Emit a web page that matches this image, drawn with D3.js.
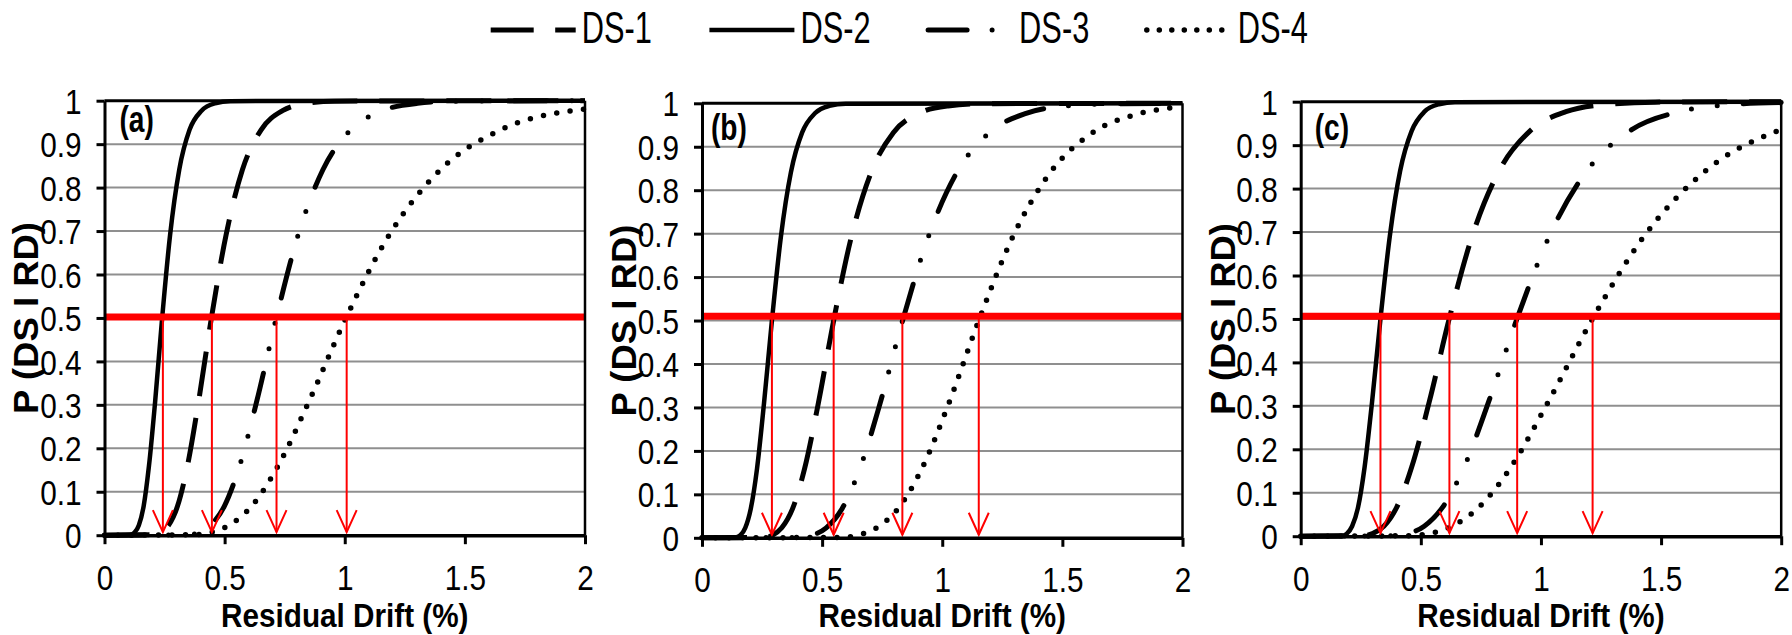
<!DOCTYPE html>
<html>
<head>
<meta charset="utf-8">
<script src="https://cdn.jsdelivr.net/npm/d3@7"></script>
<style>
  html, body { margin: 0; padding: 0; background: #fff; }
  svg { display: block; }
  text { font-family: "Liberation Sans", Arial, sans-serif; fill: #000; }
</style>
</head>
<body>
<svg id="chart"></svg>
<script>
// ---- values: [residual drift %, probability] ----
const seriesNames = ["DS-1", "DS-2", "DS-3", "DS-4"];
const panelLabels = ["(a)", "(b)", "(c)"];
const xTicks = [0, 0.5, 1, 1.5, 2];
const yTicks = [0, 0.1, 0.2, 0.3, 0.4, 0.5, 0.6, 0.7, 0.8, 0.9, 1];
const medianLevel = [0.502, 0.510, 0.506];

const arrowsA = [0.243, 0.447, 0.716, 1.008];
const arrowsB = [0.291, 0.548, 0.834, 1.152];
const arrowsC = [0.332, 0.619, 0.901, 1.215];

const a_DS1 = [[0,0],[0.207,0.001],[0.235,0.006],[0.267,0.023],[0.304,0.067],[0.345,0.159],[0.392,0.309],[0.445,0.5],[0.506,0.691],[0.574,0.841],[0.652,0.933],[0.741,0.977],[0.842,0.994],[0.956,0.999],[2,1]];
const a_DS2 = [[0,0],[0.110,0.001],[0.125,0.006],[0.143,0.023],[0.163,0.067],[0.185,0.159],[0.211,0.309],[0.240,0.5],[0.273,0.691],[0.311,0.841],[0.354,0.933],[0.404,0.977],[0.460,0.994],[0.524,0.999],[2,1]];
const a_DS3 = [[0,0],[0.348,0.001],[0.392,0.006],[0.442,0.023],[0.499,0.067],[0.562,0.159],[0.634,0.309],[0.715,0.5],[0.806,0.691],[0.909,0.841],[1.025,0.933],[1.156,0.977],[1.303,0.994],[1.469,0.999],[2,1]];
const a_DS4 = [[0,0],[0.373,0.001],[0.440,0.006],[0.519,0.023],[0.613,0.067],[0.722,0.159],[0.852,0.309],[1.005,0.5],[1.185,0.691],[1.398,0.841],[1.649,0.933],[1.944,0.977],[2,0.981]];

const b_DS1 = [[0,0],[0.259,0.001],[0.293,0.006],[0.332,0.023],[0.377,0.067],[0.427,0.159],[0.484,0.309],[0.548,0.5],[0.621,0.691],[0.704,0.841],[0.797,0.933],[0.903,0.977],[1.024,0.994],[1.160,0.999],[2,1]];
const b_DS2 = [[0,0],[0.142,0.001],[0.160,0.006],[0.180,0.023],[0.203,0.067],[0.229,0.159],[0.258,0.309],[0.291,0.5],[0.328,0.691],[0.370,0.841],[0.417,0.933],[0.470,0.977],[0.530,0.994],[0.598,0.999],[2,1]];
const b_DS3 = [[0,0],[0.406,0.001],[0.458,0.006],[0.517,0.023],[0.583,0.067],[0.657,0.159],[0.741,0.309],[0.835,0.5],[0.941,0.691],[1.061,0.841],[1.197,0.933],[1.349,0.977],[1.521,0.994],[1.715,0.999],[2,1]];
const b_DS4 = [[0,0],[0.578,0.001],[0.648,0.006],[0.727,0.023],[0.816,0.067],[0.915,0.159],[1.027,0.309],[1.152,0.5],[1.292,0.691],[1.450,0.841],[1.627,0.933],[1.825,0.977],[2,0.992]];

const c_DS1 = [[0,0],[0.259,0.001],[0.299,0.006],[0.346,0.023],[0.400,0.067],[0.462,0.159],[0.535,0.309],[0.618,0.5],[0.714,0.691],[0.826,0.841],[0.955,0.933],[1.104,0.977],[1.276,0.994],[1.475,0.999],[2,1]];
const c_DS2 = [[0,0],[0.172,0.001],[0.192,0.006],[0.214,0.023],[0.239,0.067],[0.266,0.159],[0.297,0.309],[0.332,0.5],[0.371,0.691],[0.414,0.841],[0.462,0.933],[0.515,0.977],[0.575,0.994],[0.642,0.999],[2,1]];
const c_DS3 = [[0,0],[0.389,0.001],[0.447,0.006],[0.514,0.023],[0.591,0.067],[0.680,0.159],[0.782,0.309],[0.900,0.5],[1.035,0.691],[1.191,0.841],[1.370,0.933],[1.576,0.977],[1.812,0.994],[2,0.998]];
const c_DS4 = [[0,0],[0.454,0.001],[0.535,0.006],[0.630,0.023],[0.742,0.067],[0.875,0.159],[1.030,0.309],[1.214,0.5],[1.430,0.691],[1.685,0.841],[1.986,0.933],[2,0.936]];

// ---- styling / layout ----
const lineStyles = {
    "DS-1": { width: 5, dash: "45 22", legendDash: "43 21.5", cap: "butt" },
    "DS-2": { width: 4.5, dash: null, legendDash: null, cap: "butt" },
    "DS-3": { width: 5, dash: "39 25 0 26 0 26", legendDash: "39 25 0 26 0 26", cap: "round" },
    "DS-4": { width: 5.5, dash: "0 13.5", legendDash: "0 12.5", cap: "round" }
};

const layout = [
    { left: 104.5, top: 100.7, labelDx: 15, labelY: 132 },
    { left: 702, top: 103.3, labelDx: 9, labelY: 139.5 },
    { left: 1300.7, top: 101.7, labelDx: 14, labelY: 139.5 }
];

const svg = d3.select("#chart").attr("width", 1792).attr("height", 635);
svg.append("rect").attr("width", 1792).attr("height", 635).attr("fill", "#fff");

class FragilityPanel {
    constructor(svg, pos, width = 480.5, height = 434.5) {
        this.svg = svg;
        this.pos = pos;
        this.width = width;
        this.height = height;

        this.x = d3.scaleLinear().domain([0, 2]).range([0, this.width]);
        this.y = d3.scaleLinear().domain([0, 1]).range([this.height, 0]);

        this.g = svg.append("g")
            .attr("transform", `translate(${pos.left}, ${pos.top})`);
    }

    draw(series, arrows, level, label) {
        const g = this.g;

        // gridlines
        g.selectAll(".grid")
            .data(yTicks.filter(t => t > 0 && t < 1))
            .enter().append("line")
            .attr("class", "grid")
            .attr("x1", 0).attr("x2", this.width)
            .attr("y1", d => this.y(d)).attr("y2", d => this.y(d))
            .attr("stroke", "#8f8f8f").attr("stroke-width", 2);

        // curves
        const line = d3.line()
            .x(d => this.x(d[0]))
            .y(d => this.y(d[1]))
            .curve(d3.curveMonotoneX);

        series.forEach((pts, i) => {
            const st = lineStyles[seriesNames[i]];
            g.append("path")
                .datum(pts)
                .attr("d", line)
                .attr("fill", "none")
                .attr("stroke", "#000")
                .attr("stroke-width", st.width)
                .attr("stroke-linecap", st.cap)
                .attr("stroke-dasharray", st.dash);
        });

        // 50% line
        g.append("line")
            .attr("x1", this.x(0)).attr("x2", this.x(2))
            .attr("y1", this.y(level)).attr("y2", this.y(level))
            .attr("stroke", "#ff0000").attr("stroke-width", 7);

        // arrows down to the median drift
        const tip = this.y(0.007);
        arrows.forEach(v => {
            const ax = this.x(v);
            g.append("line")
                .attr("x1", ax).attr("x2", ax)
                .attr("y1", this.y(level)).attr("y2", tip)
                .attr("stroke", "#ff0000").attr("stroke-width", 2);
            g.append("path")
                .attr("d", `M${ax - 10},${tip - 22}L${ax},${tip}L${ax + 10},${tip - 22}`)
                .attr("fill", "none")
                .attr("stroke", "#ff0000").attr("stroke-width", 2);
        });

        // frame: top and right
        g.append("line")
            .attr("x1", 0).attr("x2", this.width)
            .attr("y1", 0).attr("y2", 0)
            .attr("stroke", "#000").attr("stroke-width", 3);
        g.append("line")
            .attr("x1", this.width).attr("x2", this.width)
            .attr("y1", 0).attr("y2", this.height)
            .attr("stroke", "#000").attr("stroke-width", 2.5);

        // axes
        const yAxis = g.append("g")
            .call(d3.axisLeft(this.y).tickValues(yTicks).tickSize(8).tickSizeOuter(0).tickFormat(d3.format("~g")));
        yAxis.select(".domain").attr("stroke-width", 3);
        yAxis.selectAll(".tick line").attr("stroke-width", 3);
        yAxis.selectAll(".tick text")
            .attr("x", null)
            .attr("dy", "0.36em")
            .attr("font-size", 35)
            .attr("transform", "translate(-23,0) scale(0.85,1)");

        const xAxis = g.append("g")
            .attr("transform", `translate(0, ${this.height})`)
            .call(d3.axisBottom(this.x).tickValues(xTicks).tickSize(9).tickSizeOuter(0).tickFormat(d3.format("~g")));
        xAxis.select(".domain").attr("stroke-width", 3.5);
        xAxis.selectAll(".tick line").attr("stroke-width", 3);
        xAxis.selectAll(".tick text")
            .attr("y", null)
            .attr("dy", "0.71em")
            .attr("font-size", 35)
            .attr("transform", "translate(0,29.5) scale(0.85,1)");
        g.selectAll(".tick text").attr("font-family", "Liberation Sans, Arial, sans-serif");

        // titles
        const px = this.pos.left, py = this.pos.top;
        this.svg.append("text")
            .attr("transform", `translate(${px + this.width / 2}, 626.5) scale(0.9,1)`)
            .attr("text-anchor", "middle")
            .attr("font-weight", "bold")
            .attr("font-size", 33)
            .text("Residual Drift (%)");

        this.svg.append("text")
            .attr("transform", `translate(${px - 66.2}, ${py + this.height / 2}) scale(0.95,1) rotate(-90)`)
            .attr("text-anchor", "middle")
            .attr("font-weight", "bold")
            .attr("font-size", 36.5)
            .text("P (DS I RD)");

        this.svg.append("text")
            .attr("transform", `translate(${px + this.pos.labelDx}, ${this.pos.labelY}) scale(0.76,1)`)
            .attr("font-weight", "bold")
            .attr("font-size", 37)
            .text(label);
    }
}

const panelSeries = [
    [a_DS1, a_DS2, a_DS3, a_DS4],
    [b_DS1, b_DS2, b_DS3, b_DS4],
    [c_DS1, c_DS2, c_DS3, c_DS4]
];
const panelArrows = [arrowsA, arrowsB, arrowsC];

layout.forEach((pos, i) => {
    const p = new FragilityPanel(svg, pos);
    p.draw(panelSeries[i], panelArrows[i], medianLevel[i], panelLabels[i]);
});

// legend
const legend = svg.append("g");
seriesNames.forEach((name, i) => {
    const st = lineStyles[name];
    const x0 = 490.7 + i * 218.7;
    const len = name === "DS-4" ? 76 : 85;
    legend.append("path")
        .attr("d", `M${x0},30H${x0 + len}`)
        .attr("stroke", "#000")
        .attr("stroke-width", st.width)
        .attr("stroke-linecap", st.cap)
        .attr("stroke-dasharray", st.legendDash);
    legend.append("text")
        .attr("transform", `translate(${x0 + 91}, 43.3) scale(0.7,1)`)
        .attr("font-size", 44)
        .text(name);
});
</script>
</body>
</html>
